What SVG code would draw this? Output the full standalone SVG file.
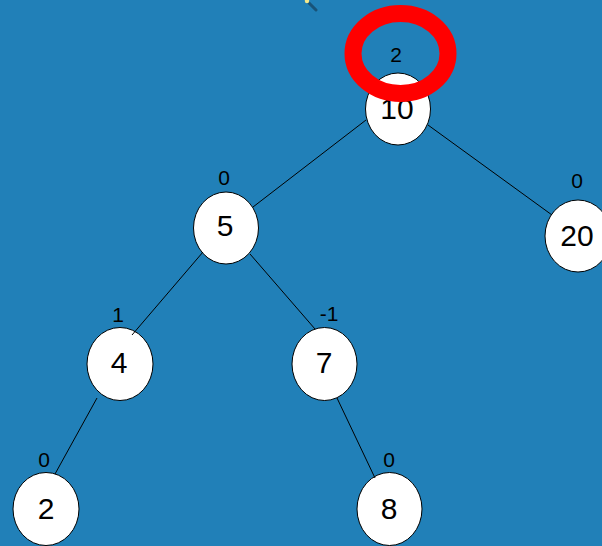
<svg xmlns="http://www.w3.org/2000/svg" width="602" height="546" viewBox="0 0 602 546">
  <style>
    .node ellipse { fill: #ffffff; stroke: #000000; stroke-width: 1; }
    .node text { font-family: "Liberation Sans", Arial, sans-serif; font-size: 30px; fill: #000000; text-anchor: middle; }
    .bal { font-family: "Liberation Sans", Arial, sans-serif; font-size: 21px; fill: #000000; text-anchor: middle; }
    .edge { stroke: #000000; stroke-width: 1; fill: none; }
  </style>
  <rect x="0" y="0" width="602" height="546" fill="#2180b8"/>

  <!-- fragment of a pointer at the top edge -->
  <g id="pointer">
    <line x1="309" y1="3" x2="316" y2="10" stroke="#16496a" stroke-width="3" stroke-linecap="round" opacity="0.8"/>
    <circle cx="307" cy="1" r="2.2" fill="#f4e88a"/>
  </g>

  <!-- nodes -->
  <g id="n10" class="node"><ellipse cx="398" cy="109" rx="32.5" ry="36"/><text x="397" y="119">10</text></g>
  <g id="n5" class="node"><ellipse cx="226" cy="228" rx="32.5" ry="36"/><text x="225" y="236">5</text></g>
  <g id="n20" class="node"><ellipse cx="578" cy="236" rx="33" ry="36"/><text x="577" y="246">20</text></g>
  <g id="n4" class="node"><ellipse cx="120" cy="364" rx="33" ry="36.5"/><text x="119" y="373">4</text></g>
  <g id="n7" class="node"><ellipse cx="324.5" cy="364" rx="32.5" ry="36.5"/><text x="324" y="373">7</text></g>
  <g id="n2" class="node"><ellipse cx="46" cy="509" rx="33" ry="36.5"/><text x="46" y="519">2</text></g>
  <g id="n8" class="node"><ellipse cx="389.5" cy="509" rx="32.5" ry="36.5"/><text x="389" y="519">8</text></g>

  <!-- connectors -->
  <g id="edges">
    <line class="edge" x1="366" y1="120" x2="253" y2="207"/>
    <line class="edge" x1="428" y1="125" x2="552" y2="215"/>
    <line class="edge" x1="203" y1="252" x2="132" y2="335"/>
    <line class="edge" x1="250" y1="254" x2="315" y2="329"/>
    <line class="edge" x1="97" y1="398" x2="55" y2="474"/>
    <line class="edge" x1="337" y1="398" x2="375" y2="478"/>
  </g>

  <!-- balance factors -->
  <g id="balance">
    <text class="bal" x="396" y="62">2</text>
    <text class="bal" x="224" y="185">0</text>
    <text class="bal" x="577" y="188">0</text>
    <text class="bal" x="118" y="322">1</text>
    <text class="bal" x="329" y="321">-1</text>
    <text class="bal" x="44" y="467">0</text>
    <text class="bal" x="389" y="467">0</text>
  </g>

  <!-- highlight ring around the root's balance factor -->
  <ellipse id="highlight" cx="400.5" cy="53.5" rx="47.5" ry="40" fill="none" stroke="#ff0000" stroke-width="17"/>
</svg>
